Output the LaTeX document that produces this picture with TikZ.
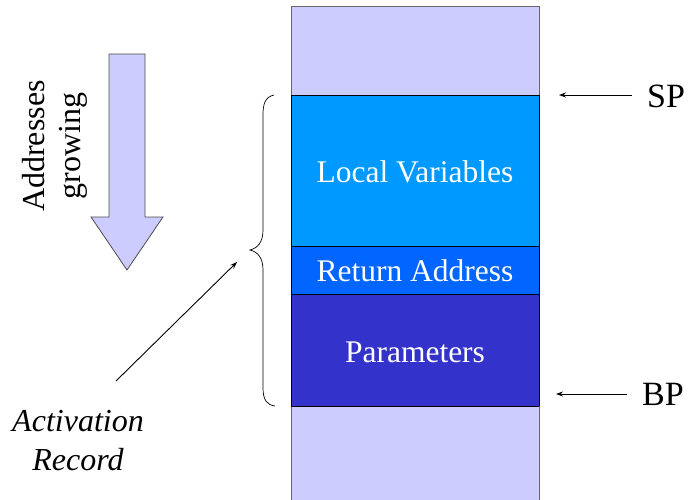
\documentclass[tikz,border=0pt]{standalone}
\usepackage{fontspec}
\setmainfont{Liberation Serif}
\usetikzlibrary{arrows.meta}
\definecolor{lav}{HTML}{CCCCFF}
\definecolor{localc}{HTML}{0099FF}
\definecolor{retc}{HTML}{0066FF}
\definecolor{parc}{HTML}{3333CC}
\tikzset{
  slot/.style={draw=black, line width=0.9pt},
  slotlabel/.style={text=white, font=\fontsize{31.5}{34}\selectfont, inner sep=0pt},
  pointer/.style={draw=black, line width=0.9pt, -{Stealth[length=7pt,width=5pt]}},
  regname/.style={font=\fontsize{34}{36}\selectfont, inner sep=0pt, anchor=west},
  sidetext/.style={font=\fontsize{32}{36}\selectfont, inner sep=0pt, align=center}
}
\begin{document}
\begin{tikzpicture}[x=1pt,y=-1pt]
\useasboundingbox (0,0) rectangle (688,500);

% stack slots
\path[slot, fill=lav, draw=black!60] (291,6) rectangle (539,95);
\path[slot, fill=localc] (291,95) rectangle (539,246);
\path[slot, fill=retc] (291,246) rectangle (539,294);
\path[slot, fill=parc] (291,294) rectangle (539,406);
\path[fill=lav] (291,406) rectangle (539,501);
\draw[draw=black!60, line width=0.9pt] (291,406) -- (291,501) (539,406) -- (539,501);
\draw[line width=0.9pt] (291,406) -- (539,406);
\draw[line width=0.9pt] (291,95) -- (539,95);

\node[slotlabel] (lv) at (415,172) {Local Variables};
\node[slotlabel] (ra) at (415,271) {Return Address};
\node[slotlabel] (pa) at (415,352) {Parameters};

% stack / base pointer labels
\node[regname] (sp) at (647,96) {SP};
\node[regname] (bp) at (642,394) {BP};
\coordinate (spt) at (559,95);
\coordinate (bpt) at (556,394);
\draw[pointer] (sp.west) ++(-15,-1) coordinate (sps) -- (spt);
\draw[pointer] (bp.west) ++(-15,0) coordinate (bps) -- (bpt);

% growth direction arrow
\draw[fill=lav, draw=black!70, line width=0.8pt]
  (109,54) -- (145,54) -- (145,217) -- (163,217) -- (127,270)
  -- (91,217) -- (109,217) -- cycle;
\node[sidetext, rotate=90] (addr) at (34,146) {Addresses};
\node[sidetext, rotate=90] (grow) at (73,146) {growing};

% brace spanning the activation record
\draw[line width=0.7pt]
  (274,95) .. controls (265,97) and (263,104) .. (263,115)
  -- (263,230) .. controls (263,242) and (258,248) .. (250,250)
  coordinate (tip)
  .. controls (258,252) and (263,258) .. (263,270)
  -- (263,388) .. controls (263,400) and (267,405) .. (275,406);

% caption pointing at the brace
\node[sidetext, font=\fontsize{32}{39}\selectfont\itshape] (ar) at (78,441) {Activation\\Record};
\coordinate (arfrom) at (116,381);
\coordinate (arto) at (237,262);
\draw[pointer] (arfrom) -- (arto);
\end{tikzpicture}
\end{document}
